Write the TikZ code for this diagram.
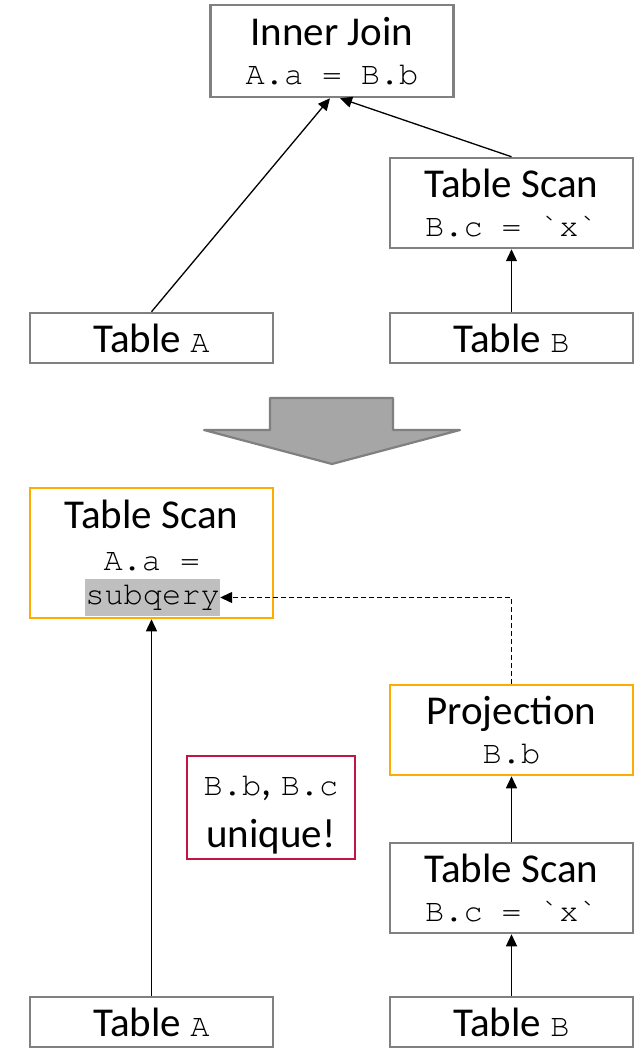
\documentclass[tikz,border=0pt]{standalone}
\usepackage{fontspec}
\setmainfont{Carlito}
\newfontfamily\monofam{texgyrecursor-regular.otf}
\usetikzlibrary{arrows.meta}
\definecolor{boxgray}{RGB}{128,128,128}
\definecolor{arrowfill}{RGB}{166,166,166}
\definecolor{orangeb}{RGB}{255,172,0}
\definecolor{redb}{RGB}{196,20,70}
\definecolor{hlgray}{RGB}{191,191,191}
\newcommand{\mt}[1]{{\monofam\fontsize{32}{39}\selectfont #1}}
\tikzset{
  box/.style={draw=boxgray, line width=2.5pt, fill=white, minimum width=243pt,
    inner sep=0pt, align=center, font=\fontsize{41}{39}\selectfont},
  obox/.style={box, draw=orangeb},
  rbox/.style={box, draw=redb, minimum width=168pt},
  txt/.style={inner sep=0pt, anchor=base, font=\fontsize{41}{39}\selectfont},
  arr/.style={line width=1.3pt, -{Triangle[length=12pt,width=11pt]}},
  darr/.style={arr, dashed, dash pattern=on 5pt off 3pt},
  bigarrow/.style={draw=boxgray, fill=arrowfill, line width=2.2pt, line join=round}
}
\begin{document}
\begin{tikzpicture}[x=1pt,y=-1pt]
\useasboundingbox (0,0) rectangle (641,1048);
% top tree
\node[box, minimum height=92pt] (ij) at (332,51) {Inner Join\\\mt{A.a = B.b}};
\node[box, minimum height=90pt] (ts1) at (511.5,203) {Table Scan\\\mt{B.c = `x`}};
\node[box, minimum height=50pt] (ta1) at (151.5,338) {Table \mt{A}};
\node[box, minimum height=50pt] (tb1) at (511.5,338) {Table \mt{B}};
\draw[arr] (ta1.north) -- ([xshift=-2pt]ij.south);
\draw[arr] (ts1.north) -- ([xshift=8pt]ij.south);
\draw[arr] (tb1.north) -- (ts1.south);
% big arrow
\draw[bigarrow] (270,398) -- (393,398) -- (393,430) -- (460,430) -- (332,464)
  -- (204,430) -- (270,430) -- cycle;
% bottom tree
\node[obox, minimum height=130pt] (ts2) at (151.5,553) {};
\node[txt] (ts2a) at (151.5,528) {Table Scan};
\node[txt] (ts2b) at (151.5,570) {\mt{A.a =}};
\node[fill=hlgray, inner sep=0pt, minimum width=135pt, minimum height=37pt] (subq) at (152.5,597.5) {\mt{subqery}};
\node[obox, minimum height=90pt] (proj) at (511.5,730) {Projection\\\mt{B.b}};
\node[rbox, minimum height=103pt] (uniq) at (271,807.5) {};
\node[txt] (uniqa) at (271,795) {\mt{B.b}, \mt{B.c}};
\node[txt] (uniqb) at (271,847) {unique!};
\node[box, minimum height=90pt] (ts3) at (511.5,888) {Table Scan\\\mt{B.c = `x`}};
\node[box, minimum height=50pt] (ta2) at (151.5,1022) {Table \mt{A}};
\node[box, minimum height=50pt] (tb2) at (511.5,1022) {Table \mt{B}};
\draw[arr] (ta2.north) -- (ts2.south);
\draw[arr] (tb2.north) -- (ts3.south);
\draw[arr] (ts3.north) -- (proj.south);
\draw[darr] (proj.north) |- (subq.east);
\end{tikzpicture}
\end{document}
